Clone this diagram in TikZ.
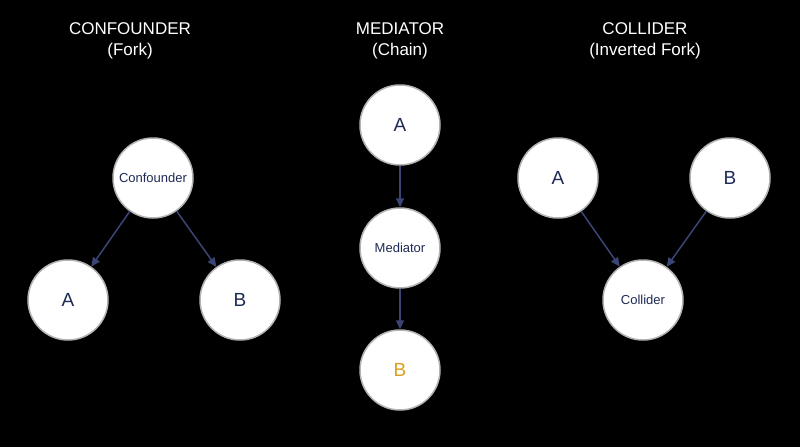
\documentclass[tikz,border=0pt]{standalone}
\usepackage{fontspec}
\setmainfont{Liberation Sans}
\usetikzlibrary{arrows.meta}
\definecolor{navy}{HTML}{1F2A55}
\definecolor{arr}{HTML}{3A4575}
\definecolor{gold}{HTML}{D9A020}
\begin{document}
\begin{tikzpicture}[x=1pt,y=-1pt,
  nd/.style={circle,fill=white,draw=gray!60,line width=1.5pt,minimum size=80pt,inner sep=0pt,text=navy},
  big/.style={font=\fontsize{19}{22}\selectfont},
  small/.style={font=\fontsize{13}{15}\selectfont},
  ttl/.style={text=white,align=center,font=\fontsize{17}{21}\selectfont},
  ar/.style={-{Triangle[length=9pt,width=8pt]},draw=arr,line width=1.5pt}]
\fill[black] (0,0) rectangle (800,447);
\useasboundingbox (0,0) rectangle (800,447);
\node[ttl] (t1) at (130,41) {CONFOUNDER\\(Fork)};
\node[ttl] (t2) at (400,41) {MEDIATOR\\(Chain)};
\node[ttl] (t3) at (645,41) {COLLIDER\\(Inverted Fork)};
\node[nd,small] (c) at (153,178) {Confounder};
\node[nd,big] (ca) at (68,300) {A};
\node[nd,big] (cb) at (240,300) {B};
\draw[ar] (c) -- (ca);
\draw[ar] (c) -- (cb);
\node[nd,big] (ma) at (400,125) {A};
\node[nd,small] (m) at (400,248) {Mediator};
\node[nd,big,text=gold] (mb) at (400,370) {B};
\draw[ar] (ma) -- (m);
\draw[ar] (m) -- (mb);
\node[nd,big] (la) at (558,178) {A};
\node[nd,big] (lb) at (730,178) {B};
\node[nd,small] (l) at (643,300) {Collider};
\draw[ar] (la) -- (l);
\draw[ar] (lb) -- (l);
\end{tikzpicture}
\end{document}
